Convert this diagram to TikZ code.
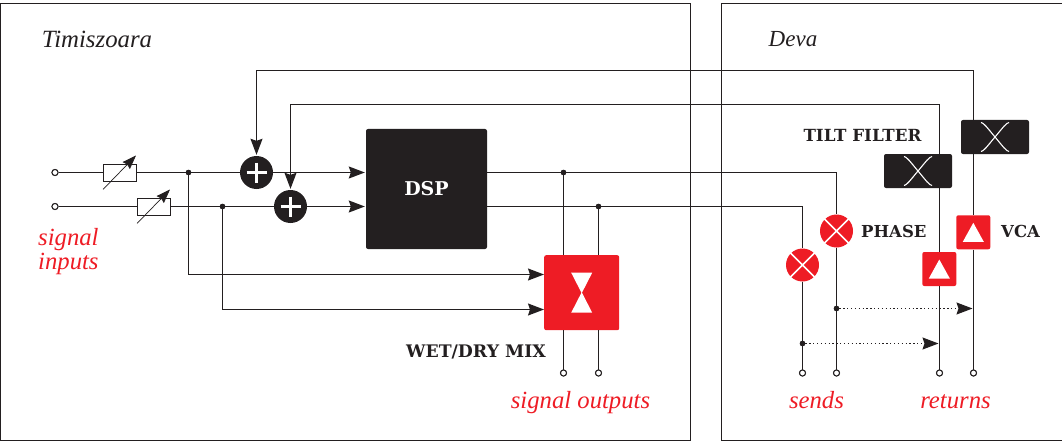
\documentclass[tikz,border=0pt]{standalone}
\usepackage{fontspec}
\setmainfont{Liberation Serif}
\newfontfamily\boldlab{DejaVu Serif}
\usetikzlibrary{arrows.meta,calc}
\definecolor{sigred}{HTML}{EE1C25}
\definecolor{inkk}{HTML}{231F20}
\tikzset{
  x=1pt,y=-1pt,
  wire/.style={draw=inkk,line width=1.25pt},
  arr/.style={wire,-{Stealth[length=16pt,width=12pt,inset=2pt]}},
  dotarr/.style={draw=inkk,line width=1.25pt,dash pattern=on 1.25pt off 2.6pt,-{Stealth[length=16pt,width=12pt,inset=2pt]}},
  frameb/.style={draw=inkk,line width=.7pt},
  term/.style={circle,draw=inkk,fill=white,line width=1pt,minimum size=6pt,inner sep=0pt},
  jdot/.style={circle,fill=inkk,minimum size=5.5pt,inner sep=0pt},
  sumn/.style={circle,fill=inkk,minimum size=33pt,inner sep=0pt},
  resbox/.style={draw=inkk,fill=white,line width=.8pt,minimum width=33pt,minimum height=17pt,inner sep=0pt},
  blackbox/.style={fill=inkk,rounded corners=2pt,minimum width=68pt,minimum height=34pt,inner sep=0pt},
  redbox/.style={fill=sigred,rounded corners=2pt,minimum width=34pt,minimum height=34pt,inner sep=0pt},
  redcirc/.style={circle,fill=sigred,minimum size=33pt,inner sep=0pt},
  redlab/.style={text=sigred,font=\fontsize{24.7}{24.5}\selectfont\itshape,align=left,inner sep=0pt},
  citylab/.style={text=inkk,font=\fontsize{24.8}{25}\selectfont\itshape,inner sep=0pt},
  boldl/.style={text=inkk,font=\boldlab\bfseries\fontsize{16.5}{18}\selectfont,inner sep=0pt},
}
\begin{document}
\begin{tikzpicture}
\useasboundingbox (0,0) rectangle (1062,441);
\draw[frameb] (0.5,3.5) rectangle (690.5,440.5);
\draw[frameb] (721.5,3.5) rectangle (1075,440.5);
\node[citylab] (timi) at (97,39) {Timiszoara};
\node[citylab,font=\fontsize{23}{25}\selectfont\itshape] (deva) at (793,39) {Deva};

% terminals
\node[term] (in1) at (55,172.5) {};
\node[term] (in2) at (55,206.5) {};
\node[term] (o1) at (563.5,373) {};
\node[term] (o2) at (598.5,373) {};
\node[term] (s1) at (802.5,373) {};
\node[term] (s2) at (836.5,373) {};
\node[term] (r1) at (939.5,373) {};
\node[term] (r2) at (973.5,373) {};

% junction positions
\node[jdot] (j1) at (188.5,172.5) {};
\node[jdot] (j2) at (222.5,206.5) {};
\node[jdot] (j3) at (563.5,172.5) {};
\node[jdot] (j4) at (598.5,206.5) {};
\node[jdot] (j5) at (836.5,308.5) {};
\node[jdot] (j6) at (802.5,343.5) {};
\coordinate (d1) at (972.5,308.5);
\coordinate (d2) at (938.5,343.5);
\coordinate (c1) at (256.5,70.5);
\coordinate (c2) at (973.5,70.5);
\coordinate (c3) at (290.5,104.5);
\coordinate (c4) at (939.5,104.5);
\coordinate (c5) at (836.5,172.5);
\coordinate (c6) at (802.5,206.5);
\coordinate (y1) at (0,274.5);
\coordinate (y2) at (0,309.5);

% main blocks
\node[sumn] (sum1) at (256.5,172.5) {};
\node[sumn] (sum2) at (290.5,206.5) {};
\node[fill=inkk,rounded corners=2pt,minimum width=121pt,minimum height=120pt,inner sep=0pt] (dsp) at (426.5,189) {};
\node[fill=sigred,rounded corners=2pt,minimum width=75pt,minimum height=75pt,inner sep=0pt] (mix) at (581.7,292.7) {};
\node[resbox] (res1) at (119.5,172.5) {};
\node[resbox] (res2) at (153.5,206.5) {};
\node[blackbox] (tf1) at (995,137) {};
\node[blackbox] (tf2) at (918,171) {};
\node[redbox] (vca1) at (973.3,232.3) {};
\node[redbox] (vca2) at (939.3,269) {};
\node[redcirc] (ph1) at (836.5,231) {};
\node[redcirc] (ph2) at (802.5,265) {};

% connectors
\draw[wire] (in1) -- (res1);
\draw[wire] (in2) -- (res2);
\draw[wire] (res1) -- (sum1);
\draw[wire] (res2) -- (sum2);
\draw[arr,shorten >=1pt] (sum1) -- (sum1 -| dsp.west);
\draw[arr,shorten >=1pt] (sum2) -- (sum2 -| dsp.west);
\draw[arr,shorten >=1pt] (c2) -- (c1) -- (sum1);
\draw[arr,shorten >=1pt] (c4) -- (c3) -- (sum2);
\draw[wire] (c2) -- (tf1.north -| c2);
\draw[wire] (c4) -- (tf2.north -| c4);
\draw[wire] (tf1.south -| c2) -- (vca1.north -| c2);
\draw[wire] (tf2.south -| c4) -- (vca2.north -| c4);
\draw[wire] (vca1.south -| r2) -- (r2);
\draw[wire] (vca2.south -| r1) -- (r1);
\draw[wire] (j3 -| dsp.east) -- (c5) -- (ph1);
\draw[wire] (j4 -| dsp.east) -- (c6) -- (ph2);
\draw[wire] (ph1) -- (s2);
\draw[wire] (ph2) -- (s1);
\draw[wire] (j3) -- (j3 |- mix.north);
\draw[wire] (j4) -- (j4 |- mix.north);
\draw[wire] (o1 |- mix.south) -- (o1);
\draw[wire] (o2 |- mix.south) -- (o2);
\draw[arr] (j1) -- (j1 |- y1) -- (mix.west |- y1);
\draw[arr] (j2) -- (j2 |- y2) -- (mix.west |- y2);
\draw[dotarr] (j5) -- (d1);
\draw[dotarr] (j6) -- (d2);

% redraw terminals / junctions above wires
\foreach \n in {in1,in2,o1,o2,s1,s2,r1,r2} {\node[term] at (\n) {};}
\foreach \n in {j1,j2,j3,j4,j5,j6} {\node[jdot] at (\n) {};}

% rheostat arrows
\draw[draw=inkk,line width=.7pt,-{Stealth[length=14pt,width=10pt,inset=1.5pt]}] ($(res1.center)+(-16.5,17)$) -- ($(res1.center)+(16.5,-17)$);
\draw[draw=inkk,line width=.7pt,-{Stealth[length=14pt,width=10pt,inset=1.5pt]}] ($(res2.center)+(-16.5,17)$) -- ($(res2.center)+(16.5,-17)$);

% plus glyphs
\foreach \n in {sum1,sum2} {
  \draw[white,line width=2.2pt] ($(\n)+(-10,0)$) -- ($(\n)+(10,0)$) ($(\n)+(0,-10)$) -- ($(\n)+(0,10)$);
}
% crossover glyphs
\foreach \n in {tf1,tf2} {
  \draw[white,line width=1.1pt] ($(\n)+(-14,-14.5)$) .. controls ($(\n)+(-11,-14)$) and ($(\n)+(-8,-9.5)$) .. ($(\n)+(0,0)$) .. controls ($(\n)+(8,9.5)$) and ($(\n)+(11,14)$) .. ($(\n)+(14,14.5)$);
  \draw[white,line width=1.1pt] ($(\n)+(14,-14.5)$) .. controls ($(\n)+(11,-14)$) and ($(\n)+(8,-9.5)$) .. ($(\n)+(0,0)$) .. controls ($(\n)+(-8,9.5)$) and ($(\n)+(-11,14)$) .. ($(\n)+(-14,14.5)$);
}
% phase crosses
\foreach \n in {ph1,ph2} {
  \draw[white,line width=1.7pt] ($(\n)+(-12.5,-12.5)$) -- ($(\n)+(12.5,12.5)$) ($(\n)+(12.5,-12.5)$) -- ($(\n)+(-12.5,12.5)$);
}
% VCA triangles
\foreach \n in {vca1,vca2} {
  \fill[white] ($(\n)+(-10.5,9.5)$) -- ($(\n)+(0,-9.5)$) -- ($(\n)+(10.5,9.5)$) -- cycle;
}
% mix glyph
\fill[white] ($(mix)+(-10.5,-20)$) -- ($(mix)+(10.5,-20)$) -- ($(mix)+(0,0.5)$) -- cycle;
\fill[white] ($(mix)+(-10.5,20)$) -- ($(mix)+(10.5,20)$) -- ($(mix)+(0,-0.5)$) -- cycle;

% text
\node[text=white,font=\boldlab\bfseries\fontsize{19}{21}\selectfont,inner sep=0pt] (dsplab) at (426.5,189) {DSP};
\node[boldl,font=\boldlab\bfseries\fontsize{16.7}{18}\selectfont] (lab1) at (862.5,135) {TILT FILTER};
\node[boldl,anchor=west] (lab2) at (861,231) {PHASE};
\node[boldl,anchor=west] (lab3) at (1001,231) {VCA};
\node[boldl,font=\boldlab\bfseries\fontsize{17.3}{18}\selectfont] (lab4) at (476,352) {WET/DRY MIX};
\node[redlab,anchor=north west] (lab5) at (38,228) {signal\\inputs};
\node[redlab,anchor=base] (lab6) at (580.5,408) {signal outputs};
\node[redlab,anchor=base] (lab7) at (816.5,408) {sends};
\node[redlab,anchor=base] (lab8) at (955.5,408) {returns};
\end{tikzpicture}
\end{document}
